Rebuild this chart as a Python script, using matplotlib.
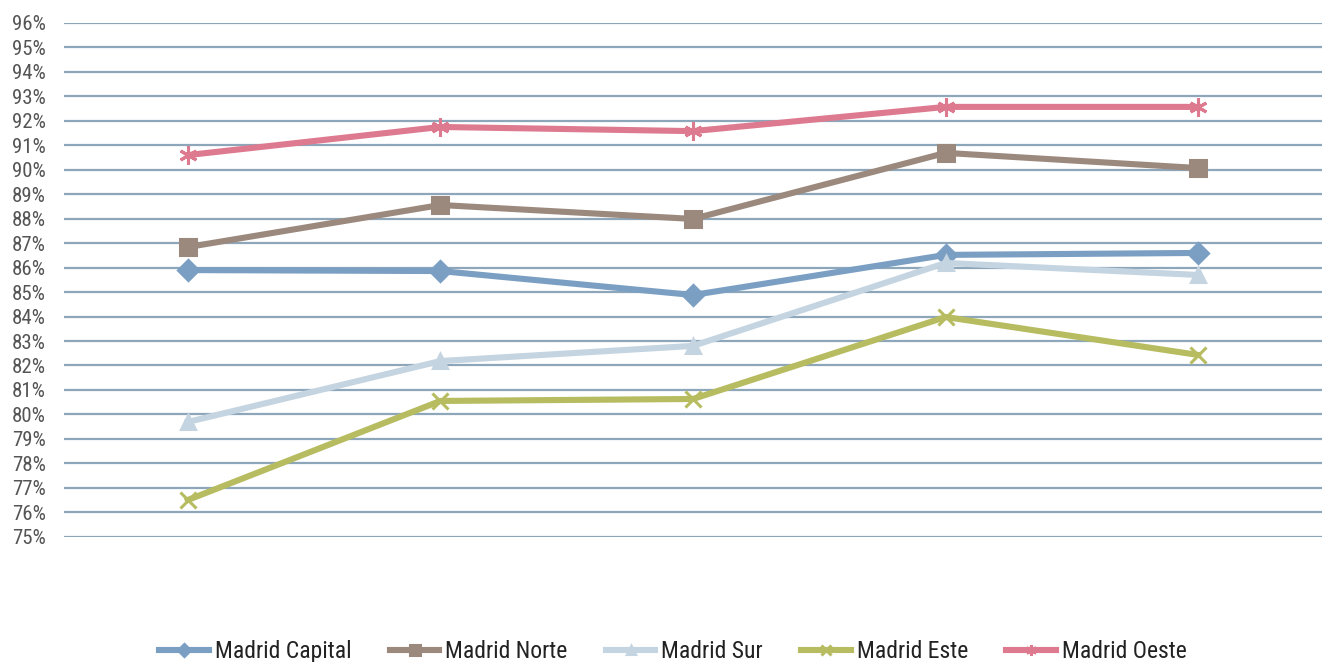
import matplotlib
matplotlib.use("Agg")
import matplotlib.pyplot as plt
from matplotlib import font_manager

fams = {f.name for f in font_manager.fontManager.ttflist}
cands = ["Liberation Sans Narrow", "DejaVu Sans Condensed", "Roboto Condensed", "Open Sans Condensed"]
narrow = [c for c in cands if c in fams]
condensed_found = bool(narrow)
if not narrow:
    narrow = ["Liberation Sans"]
plt.rcParams['font.family'] = narrow[:1] + ['DejaVu Sans']

categories = ["1", "2", "3", "4", "5"]
capital = [85.9, 85.86, 84.88, 86.52, 86.6]
norte = [86.84, 88.56, 87.99, 90.69, 90.07]
sur = [79.69, 82.18, 82.8, 86.19, 85.7]
este = [76.5, 80.55, 80.63, 83.98, 82.43]
oeste = [90.6, 91.75, 91.58, 92.57, 92.57]
series_names = ["Madrid Capital", "Madrid Norte", "Madrid Sur", "Madrid Este", "Madrid Oeste"]
y_ticks = list(range(75, 97))

colors = ["#7b9fc3", "#9c897d", "#c4d4e0", "#b6bc5f", "#de7a8f"]
markers = ["D", "s", "^", "x", (6, 2, 0)]
msizes = [10, 11, 10, 11, 13]

fig = plt.figure(figsize=(13.22, 6.62), dpi=100)
ax = fig.add_axes([64/1322, 1-536.7/662, 1-64/1322, (536.7-23)/662])

x = list(range(len(categories)))
for vals, name, c, m, ms in zip([capital, norte, sur, este, oeste], series_names, colors, markers, msizes):
    ax.plot(x, vals, color=c, lw=4.4, marker=m, ms=ms, mew=2.2, mec=c, mfc=c,
            label=name, solid_joinstyle='round', zorder=3)

ax.set_ylim(75, 96)
ax.set_xlim(-0.49, 4.49)
ax.set_yticks(y_ticks)
ax.set_yticklabels([f"{v}%" for v in y_ticks])
ax.set_xticks([])
ax.yaxis.grid(True, color="#8ea6ba", lw=1.6, zorder=1)
for s in ax.spines.values():
    s.set_visible(False)
tick_size = 15 if condensed_found else 12.5
leg_size = 17 if condensed_found else 14
ax.tick_params(axis='y', length=0, pad=13, labelsize=tick_size, labelcolor="#555555")

leg = fig.legend(loc='lower center', bbox_to_anchor=(0.509, -0.034), ncol=5, frameon=False,
                 fontsize=leg_size, handlelength=2.1, columnspacing=1.62, handletextpad=0.25,
                 markerscale=0.6)
for t in leg.get_texts():
    t.set_color("#222222")

fig.savefig("out.png", dpi=100)
